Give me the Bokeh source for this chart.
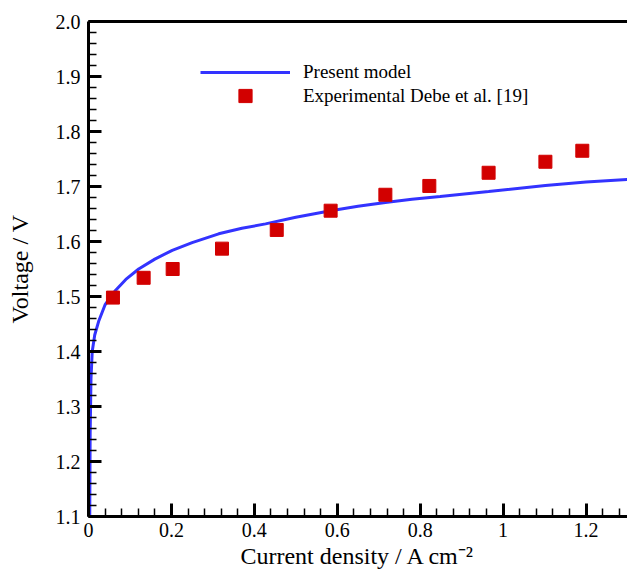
from bokeh.plotting import figure
from bokeh.models import (Range1d, FixedTicker, LinearAxis, Legend, LegendItem)
from bokeh.embed import file_html
from bokeh.resources import INLINE

# ---- data ----
model_j = [0.003, 0.004, 0.005, 0.006, 0.009, 0.015, 0.025, 0.04, 0.065, 0.09,
           0.121, 0.16, 0.202, 0.25, 0.314, 0.37, 0.427, 0.5, 0.584, 0.65,
           0.716, 0.78, 0.848, 0.965, 1.102, 1.2, 1.3]
model_v = [1.10, 1.25, 1.30, 1.35, 1.40, 1.43, 1.456, 1.485, 1.511, 1.531,
           1.550, 1.568, 1.584, 1.598, 1.614, 1.624, 1.632, 1.644, 1.656, 1.664,
           1.671, 1.677, 1.682, 1.691, 1.702, 1.708, 1.713]

exp_j = [0.059, 0.133, 0.203, 0.322, 0.454, 0.584, 0.716, 0.822, 0.965, 1.102, 1.191]
exp_v = [1.498, 1.534, 1.550, 1.587, 1.621, 1.656, 1.685, 1.701, 1.725, 1.745, 1.765]

x_ticks = [0, 0.2, 0.4, 0.6, 0.8, 1.0, 1.2]
x_tick_labels = ["0", "0.2", "0.4", "0.6", "0.8", "1", "1.2"]
y_ticks = [1.1, 1.2, 1.3, 1.4, 1.5, 1.6, 1.7, 1.8, 1.9, 2.0]
y_tick_labels = ["1.1", "1.2", "1.3", "1.4", "1.5", "1.6", "1.7", "1.8", "1.9", "2.0"]

FONT = "Liberation Serif"

p = figure(width=627, height=574, output_backend="svg", toolbar_location=None,
           x_range=Range1d(0, 1.3), y_range=Range1d(1.1, 2.0),
           min_border_left=88, min_border_right=0, min_border_top=21,
           min_border_bottom=58, x_axis_label="Current density / A cm⁻²",
           y_axis_label="Voltage / V")
p.outline_line_color = None
p.grid.visible = False
p.background_fill_color = "white"
p.border_fill_color = "white"

# x axis
xa = p.xaxis[0]
xa.ticker = FixedTicker(ticks=x_ticks,
                        minor_ticks=[round(i * 0.04, 2) for i in range(0, 33)])
xa.major_label_overrides = {t: l for t, l in zip(x_ticks, x_tick_labels)}
# y axis
ya = p.yaxis[0]
ya.ticker = FixedTicker(ticks=y_ticks,
                        minor_ticks=[round(1.1 + i * 0.02, 2) for i in range(0, 46)])
ya.major_label_overrides = {t: l for t, l in zip(y_ticks, y_tick_labels)}

for ax in (xa, ya):
    ax.axis_line_width = 3
    ax.axis_line_color = "black"
    ax.major_tick_in = 13
    ax.major_tick_out = 0
    ax.minor_tick_in = 8
    ax.minor_tick_out = 0
    ax.major_tick_line_width = 3
    ax.minor_tick_line_width = 1.5
    ax.major_tick_line_color = "black"
    ax.minor_tick_line_color = "black"
    ax.major_label_text_font = FONT
    ax.major_label_text_font_size = "20px"
    ax.major_label_text_color = "black"
    ax.axis_label_text_font = FONT
    ax.axis_label_text_font_size = "24px"
    ax.axis_label_text_font_style = "normal"
    ax.axis_label_text_color = "black"

xa.major_label_standoff = 6
xa.axis_label_standoff = 3
ya.major_label_standoff = 8
ya.axis_label_standoff = 20

# top border line
top = LinearAxis(ticker=FixedTicker(ticks=[]), axis_line_width=3,
                 axis_line_color="black", major_tick_in=0, major_tick_out=0,
                 minor_tick_in=0, minor_tick_out=0,
                 major_label_text_font_size="0px")
p.add_layout(top, "above")

r_line = p.line(model_j, model_v, line_color="#3333FF", line_width=3)
r_pts = p.scatter(exp_j, exp_v, marker="square", size=13,
                  fill_color="#D20000", line_color="#D20000")

leg1 = Legend(items=[LegendItem(label="Present model", renderers=[r_line])],
              location=(112, 432), glyph_width=90, glyph_height=24,
              label_standoff=13, padding=0, margin=0, spacing=0,
              border_line_color=None, background_fill_alpha=0,
              label_text_font=FONT, label_text_font_size="19px",
              label_text_color="black")
leg2 = Legend(items=[LegendItem(label="Experimental Debe et al. [19]", renderers=[r_pts])],
              location=(112, 404), glyph_width=90, glyph_height=33,
              label_standoff=13, padding=0, margin=0, spacing=0,
              border_line_color=None, background_fill_alpha=0,
              label_text_font=FONT, label_text_font_size="19px",
              label_text_color="black")
p.add_layout(leg1, "center")
p.add_layout(leg2, "center")

open("out.html", "w").write(file_html(p, INLINE))
